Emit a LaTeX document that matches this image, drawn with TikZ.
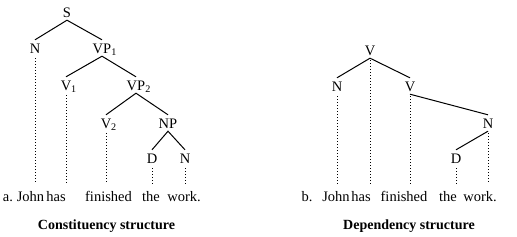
\documentclass[tikz,border=0pt]{standalone}
\usepackage{fontspec}
\setmainfont{Liberation Serif}

\begin{document}
\begin{tikzpicture}[x=1pt, y=-1pt, font=\fontsize{14.5}{17}\selectfont,
    lbl/.style={anchor=base, inner sep=3pt, text height=10pt, text depth=0pt},
    word/.style={anchor=base, inner xsep=0pt, inner ysep=6pt, text height=11pt, text depth=0pt},
    title/.style={anchor=base, font=\fontsize{14}{17}\selectfont\bfseries},
    branch/.style={line width=1pt},
    proj/.style={line width=1pt, dash pattern=on 1pt off 2pt, shorten <=2pt}]
    \useasboundingbox (0,0) rectangle (517,236);
    % constituency tree
    \node[lbl] (cS) at (67,17) {S};
    \node[lbl] (cN) at (35,53) {N};
    \node[lbl] (cVP1) at (102,53) {VP\rlap{\textsubscript{1}}};
    \node[lbl] (cV1) at (66,90) {V\rlap{\textsubscript{1}}};
    \node[lbl] (cVP2) at (136,90) {VP\rlap{\textsubscript{2}}};
    \node[lbl] (cV2) at (106,128) {V\rlap{\textsubscript{2}}};
    \node[lbl] (cNP) at (168,128) {NP};
    \node[lbl] (cD) at (152,163) {D};
    \node[lbl] (cN2) at (185,163) {N};
    \node[word] (ca) at (8,201) {a.};
    \node[word] (cjohn) at (30.5,201) {John};
    \node[word] (chas) at (56,201) {has};
    \node[word] (cfin) at (108.5,201) {finished};
    \node[word] (cthe) at (151,201) {the};
    \node[word] (cwork) at (184,201) {work.};
    \node[title] (ctitle) at (106.5,229) {Constituency structure};
    \draw[branch] (cN.north) -- (cS.south) -- (cVP1.north);
    \draw[branch] (cV1.north) -- (cVP1.south) -- (cVP2.north);
    \draw[branch] (cV2.north) -- (cVP2.south) -- (cNP.north);
    \draw[branch] (cD.north) -- (cNP.south) -- (cN2.north);
    \draw[proj] (cN.south) -- (cN.south |- cjohn.north);
    \draw[proj] (cV1.south) -- (cV1.south |- chas.north);
    \draw[proj] (cV2.south) -- (cV2.south |- cfin.north);
    \draw[proj] (cD.south) -- (cD.south |- cthe.north);
    \draw[proj] (cN2.south) -- (cN2.south |- cwork.north);
    % dependency tree
    \node[lbl] (dV) at (370,55) {V};
    \node[lbl] (dN) at (337,91) {N};
    \node[lbl] (dV2) at (410,91) {V};
    \node[lbl] (dN2) at (488,128) {N};
    \node[lbl] (dD) at (456,163) {D};
    \node[word] (db) at (307,201) {b.};
    \node[word] (djohn) at (336,201) {John};
    \node[word] (dhas) at (361,201) {has};
    \node[word] (dfin) at (404,201) {finished};
    \node[word] (dthe) at (448,201) {the};
    \node[word] (dwork) at (480,201) {work.};
    \node[title] (dtitle) at (409,229) {Dependency structure};
    \draw[branch] (dN.north) -- (dV.south) -- (dV2.north);
    \draw[branch] (dV2.south) -- (dN2.north);
    \draw[branch] (dN2.south) -- (dD.north);
    \draw[proj] (dN.south) -- (dN.south |- djohn.north);
    \draw[proj] (dV.south) -- (dV.south |- dhas.north);
    \draw[proj] (dV2.south) -- (dV2.south |- dfin.north);
    \draw[proj] (dD.south) -- (dD.south |- dthe.north);
    \draw[proj] (dN2.south) -- (dN2.south |- dwork.north);
\end{tikzpicture}
\end{document}
